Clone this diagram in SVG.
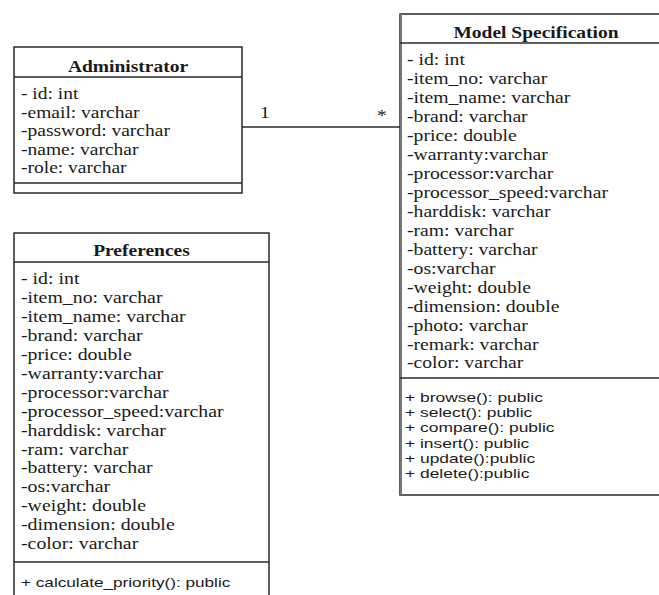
<svg xmlns="http://www.w3.org/2000/svg" width="659" height="595" viewBox="0 0 659 595">
  <style>
    .box { fill: #ffffff; stroke: #2a2a2a; stroke-width: 1.5; }
    .sep { stroke: #2a2a2a; stroke-width: 1.5; }
    .title { font-family: "Liberation Serif", "Times New Roman", serif; font-size: 16px; font-weight: bold; fill: #1a1a1a; text-anchor: middle; }
    .attr { font-family: "Liberation Serif", "Times New Roman", serif; font-size: 16px; fill: #1a1a1a; }
    .op { font-family: "Liberation Sans", Arial, sans-serif; font-size: 13px; fill: #1a1a1a; }
    .mult { font-family: "Liberation Serif", "Times New Roman", serif; font-size: 16px; fill: #1a1a1a; }
    .link { stroke: #2a2a2a; stroke-width: 1.5; fill: none; }
  </style>
  <rect width="659" height="595" fill="#ffffff"/>

  <!-- association -->
  <g id="connectors">
    <line class="link" x1="242" y1="127" x2="400" y2="127"/>
    <g transform="translate(260,118) scale(1.22,1)"><text class="mult" x="0" y="0">1</text></g>
    <g transform="translate(377,121) scale(1.22,1)"><text class="mult" x="0" y="0" fill="#555">*</text></g>
  </g>

  <!-- Administrator class -->
  <g id="administrator">
    <rect class="box" x="14" y="47" width="228" height="146"/>
    <line class="sep" x1="14" y1="77" x2="242" y2="77"/>
    <line class="sep" x1="14" y1="183" x2="242" y2="183"/>
    <g transform="translate(128,0) scale(1.22,1)"><text class="title" x="0" y="72">Administrator</text></g>
    <g transform="translate(21,0) scale(1.22,1)">
      <text class="attr" x="0" y="99">- id: int</text>
      <text class="attr" x="0" y="117.6">-email: varchar</text>
      <text class="attr" x="0" y="136.2">-password: varchar</text>
      <text class="attr" x="0" y="154.8">-name: varchar</text>
      <text class="attr" x="0" y="173.4">-role: varchar</text>
    </g>
  </g>

  <!-- Model Specification class -->
  <g id="model-specification">
    <rect class="box" x="400" y="14" width="272" height="481" stroke="#555" stroke-width="2"/>
    <line x1="401" y1="14" x2="401" y2="495" stroke="#777" stroke-width="2"/>
    <line class="sep" x1="400" y1="43" x2="672" y2="43"/>
    <line class="sep" x1="400" y1="378" x2="672" y2="378"/>
    <g transform="translate(536,0) scale(1.22,1)"><text class="title" x="0" y="38">Model Specification</text></g>
    <g transform="translate(407,0) scale(1.23,1)">
      <text class="attr" x="0" y="65.3">- id: int</text>
      <text class="attr" x="0" y="84.25">-item_no: varchar</text>
      <text class="attr" x="0" y="103.2">-item_name: varchar</text>
      <text class="attr" x="0" y="122.15">-brand: varchar</text>
      <text class="attr" x="0" y="141.1">-price: double</text>
      <text class="attr" x="0" y="160.05">-warranty:varchar</text>
      <text class="attr" x="0" y="179">-processor:varchar</text>
      <text class="attr" x="0" y="197.95">-processor_speed:varchar</text>
      <text class="attr" x="0" y="216.9">-harddisk: varchar</text>
      <text class="attr" x="0" y="235.85">-ram: varchar</text>
      <text class="attr" x="0" y="254.8">-battery: varchar</text>
      <text class="attr" x="0" y="273.75">-os:varchar</text>
      <text class="attr" x="0" y="292.7">-weight: double</text>
      <text class="attr" x="0" y="311.65">-dimension: double</text>
      <text class="attr" x="0" y="330.6">-photo: varchar</text>
      <text class="attr" x="0" y="349.55">-remark: varchar</text>
      <text class="attr" x="0" y="368.5">-color: varchar</text>
    </g>
    <g transform="translate(405,0) scale(1.34,1)">
      <text class="op" x="0" y="401.7">+ browse(): public</text>
      <text class="op" x="0" y="417">+ select(): public</text>
      <text class="op" x="0" y="432.3">+ compare(): public</text>
      <text class="op" x="0" y="447.6">+ insert(): public</text>
      <text class="op" x="0" y="462.9">+ update():public</text>
      <text class="op" x="0" y="478.2">+ delete():public</text>
    </g>
  </g>

  <!-- Preferences class -->
  <g id="preferences">
    <rect class="box" x="14" y="233" width="255" height="370"/>
    <line class="sep" x1="14" y1="262" x2="269" y2="262"/>
    <line class="sep" x1="14" y1="562" x2="269" y2="562"/>
    <g transform="translate(141.5,0) scale(1.22,1)"><text class="title" x="0" y="256">Preferences</text></g>
    <g transform="translate(21,0) scale(1.24,1)">
      <text class="attr" x="0" y="284.5">- id: int</text>
      <text class="attr" x="0" y="303.4">-item_no: varchar</text>
      <text class="attr" x="0" y="322.3">-item_name: varchar</text>
      <text class="attr" x="0" y="341.2">-brand: varchar</text>
      <text class="attr" x="0" y="360.1">-price: double</text>
      <text class="attr" x="0" y="379">-warranty:varchar</text>
      <text class="attr" x="0" y="397.9">-processor:varchar</text>
      <text class="attr" x="0" y="416.8">-processor_speed:varchar</text>
      <text class="attr" x="0" y="435.7">-harddisk: varchar</text>
      <text class="attr" x="0" y="454.6">-ram: varchar</text>
      <text class="attr" x="0" y="473.5">-battery: varchar</text>
      <text class="attr" x="0" y="492.4">-os:varchar</text>
      <text class="attr" x="0" y="511.3">-weight: double</text>
      <text class="attr" x="0" y="530.2">-dimension: double</text>
      <text class="attr" x="0" y="549.1">-color: varchar</text>
    </g>
    <g transform="translate(21,0) scale(1.32,1)">
      <text class="op" x="0" y="587">+ calculate_priority(): public</text>
    </g>
  </g>
</svg>
